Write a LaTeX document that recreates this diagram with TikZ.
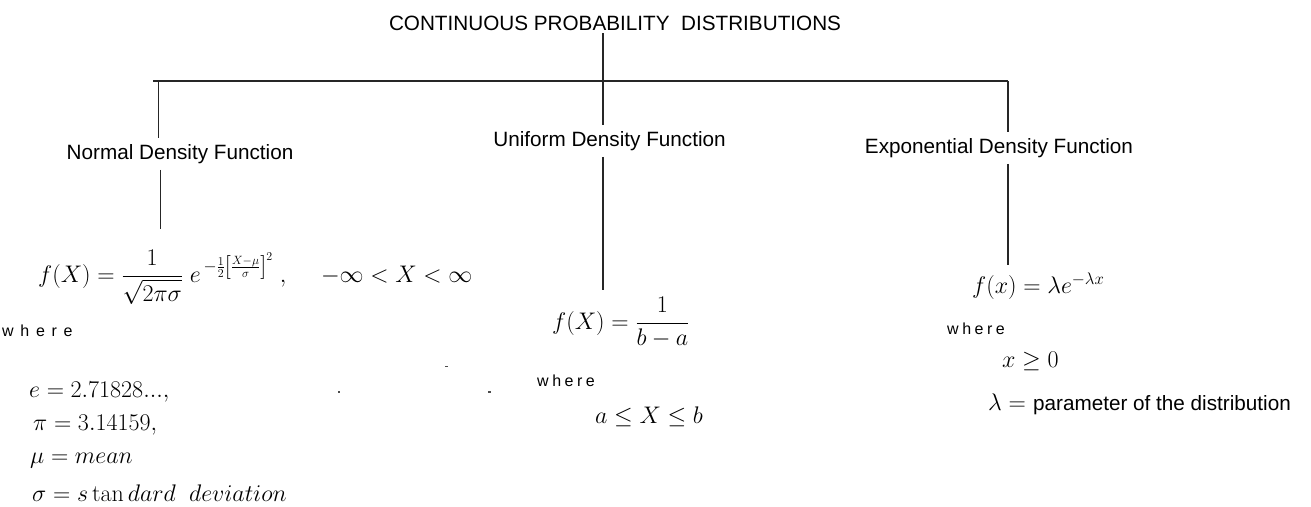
\RequirePackage{fix-cm}
\documentclass[tikz,border=0pt]{standalone}
\usepackage{amsmath}
\usepackage{fontspec}
\setsansfont{Liberation Sans}
\newfontfamily\whfont[LetterSpace=22]{Liberation Sans}
\newfontfamily\whwidefont[LetterSpace=42]{Liberation Sans}
\begin{document}
\begin{tikzpicture}[x=1pt,y=-1pt,
  lab/.style={font=\fontsize{20.7}{25}\selectfont\sffamily, inner sep=6pt, anchor=base},
  wh/.style={font=\fontsize{16}{19}\selectfont\whfont, inner sep=0pt, anchor=base west},
  mth/.style={font=\fontsize{24}{28}\selectfont, inner sep=0pt, anchor=base west},
  ln/.style={line width=1.3pt, draw=black!85},
  hln/.style={line width=2pt, draw=black!85}]
\useasboundingbox[fill=white] (0,0) rectangle (1311,506);

% headings
\node[lab, inner sep=2.5pt] (title) at (615,30.5) {CONTINUOUS PROBABILITY~ DISTRIBUTIONS};
\node[lab] (normal) at (180,159.5) {Normal Density Function};
\node[lab] (uniform) at (609.5,146.5) {Uniform Density Function};
\node[lab] (expo) at (999,153.5) {Exponential Density Function};

% formulas
\node[mth] (fnormal) at (38,282) {$f(X) = \dfrac{1}{\sqrt{2\pi\sigma}}\;e^{\,-\frac{1}{2}\left[\frac{X-\mu}{\sigma}\right]^{2}}\;,\quad\; -\infty < X < \infty$};
\node[wh, font=\fontsize{16}{19}\selectfont\whwidefont] (wl) at (2,336) {where};
\node[mth] (dl1) at (29,397) {$e = 2.71828...,$};
\node[mth] (dl2) at (33,430) {$\pi = 3.14159,$};
\node[mth] (dl3) at (30,463) {$\mu = mean$};
\node[mth] (dl4) at (32,501) {$\sigma = s\tan dard\;\; deviation$};

\node[mth] (funiform) at (552,329) {$f(X) = \dfrac{1}{b-a}$};
\node[wh] (wm) at (537,386) {where};
\node[mth] (dm1) at (595,423) {$a \le X \le b$};

\node[mth] (fexpo) at (972,293) {$f(x) = \lambda e^{-\lambda x}$};
\node[wh] (wr) at (947,334) {where};
\node[mth] (dr1) at (1002,367) {$x \ge 0$};
\node[mth] (dr2) at (988,410) {$\lambda = $ {\fontsize{20.7}{25}\selectfont\sffamily parameter of the distribution}};

% junctions
\coordinate (hl) at (153,81);
\coordinate (hr) at (1008,81);
\coordinate (jl) at (158.5,81);
\coordinate (jm) at (603,81);

% connectors
\draw[hln] (hl) -- (hr);
\draw[ln] (title.south -| jm) -- (jm) -- (jm |- uniform.north);
\draw[ln] (jl) -- (jl |- normal.north);
\draw[ln] (hr) -- (hr |- expo.north);
\draw[ln, shorten >=21pt] ([xshift=2pt]jl |- normal.south) -- ([xshift=2pt]jl |- fnormal.north);
\draw[ln, shorten >=7pt] (jm |- uniform.south) -- (jm |- funiform.north);
\draw[ln, shorten >=7pt] (hr |- expo.south) -- (hr |- fexpo.north);

% stray specks
\fill[black!70] (338,391) rectangle (340,393);
\fill[black!70] (445,365.5) rectangle (447.5,367);
\fill[black!70] (488,391) rectangle (490.5,393);
\end{tikzpicture}
\end{document}
